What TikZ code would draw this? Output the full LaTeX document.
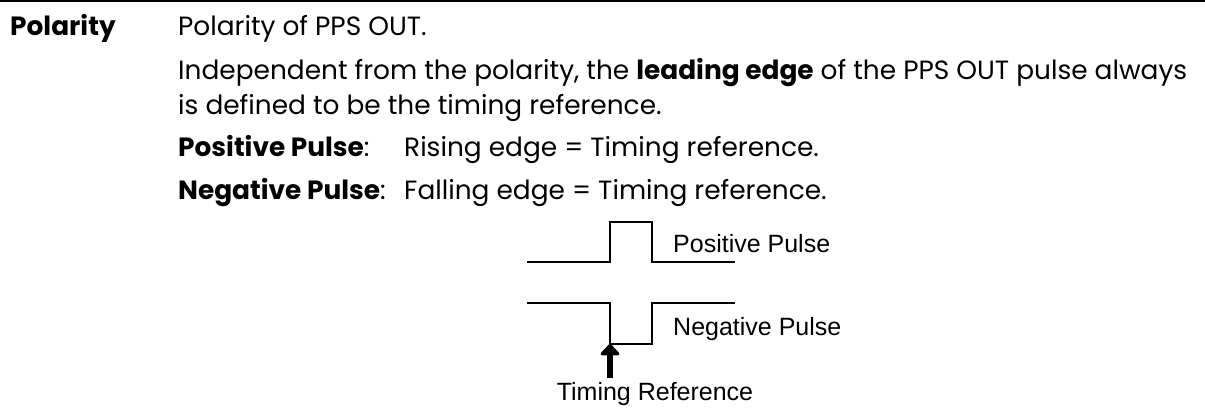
\documentclass[tikz,border=0pt]{standalone}
\usepackage{fontspec}
\setmainfont{Poppins}
\newfontfamily\arialfam{Liberation Sans}
\usetikzlibrary{arrows.meta}
\newlength\bodylen
\newcommand\bodyf{\fontsize{\bodysize pt}{\bodysize pt}\selectfont}
\newcommand\labf{\arialfam\fontsize{25pt}{30pt}\selectfont}
\begin{document}
\settowidth\bodylen{\fontsize{10pt}{12pt}\selectfont Independent from the polarity, the \textbf{leading edge} of the PPS OUT pulse always}%
\pgfmathsetmacro\bodysize{10*1009/\bodylen}%
\begin{tikzpicture}[x=1pt,y=-1pt,
  body/.style={anchor=base west,inner sep=0pt,font=\bodyf},
  bodyb/.style={anchor=base west,inner sep=0pt,font=\bodyf\bfseries},
  lab/.style={anchor=base west,inner sep=0pt,font=\labf},
  wave/.style={line width=1.6pt,line join=miter},
  rule/.style={line width=2pt},
  refarrow/.style={line width=6pt,-{Triangle[width=22pt,length=12pt,round]}}]
\useasboundingbox (0,0) rectangle (1205,409);
% top rule
\coordinate (rl) at (0,1);
\coordinate (rr) at (1205,1);
\draw[rule] (rl) -- (rr);
% text
\node[bodyb] (head) at (10,36) {Polarity};
\node[body] (l1) at (178,36) {Polarity of PPS OUT.};
\node[body] (l2) at (178,80) {Independent from the polarity, the \textbf{leading edge} of the PPS OUT pulse always};
\node[body] (l3) at (178,115) {is defined to be the timing reference.};
\node[body] (p1) at (178,157) {\textbf{Positive Pulse}:};
\node[body] (p2) at (404,157) {Rising edge = Timing reference.};
\node[body] (n1) at (178,199) {\textbf{Negative Pulse}:};
\node[body] (n2) at (404,199) {Falling edge = Timing reference.};
% positive pulse
\coordinate (pa) at (527,262);
\coordinate (pb) at (610,262);
\coordinate (pc) at (610,222);
\coordinate (pd) at (652,222);
\coordinate (pe) at (652,262);
\coordinate (pf) at (735,262);
\draw[wave] (pa) -- (pb) -- (pc) -- (pd) -- (pe) -- (pf);
% negative pulse
\coordinate (na) at (527,303);
\coordinate (nb) at (610,303);
\coordinate (nc) at (610,344);
\coordinate (nd) at (652,344);
\coordinate (ne) at (652,303);
\coordinate (nf) at (735,303);
\draw[wave] (na) -- (nb) -- (nc) -- (nd) -- (ne) -- (nf);
% labels
\node[lab] (pp) at (673,252) {Positive Pulse};
\node[lab] (np) at (673,335) {Negative Pulse};
\node[anchor=base,inner sep=0pt,font=\labf] (tr) at (655,400) {Timing Reference};
% arrow
\coordinate (tail) at (610,378);
\draw[refarrow] (tail) -- (nc);
\end{tikzpicture}
\end{document}
